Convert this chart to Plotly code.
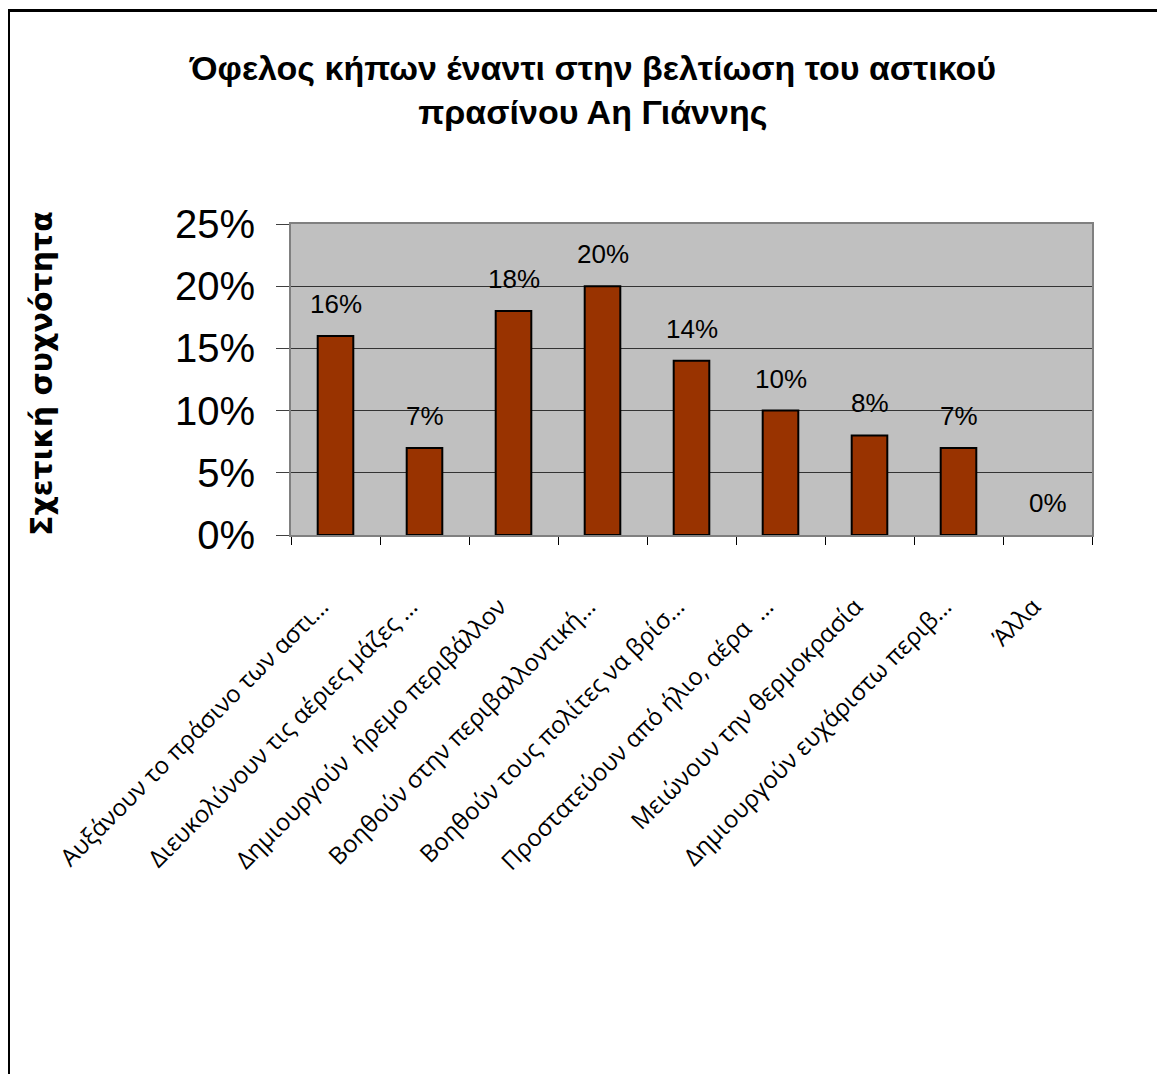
import plotly.graph_objects as go

categories = [
    "Αυξάνουν το πράσινο των αστι…",
    "Διευκολύνουν τις αέριες μάζες …",
    "Δημιουργούν  ήρεμο περιβάλλον",
    "Βοηθούν στην περιβαλλοντική…",
    "Βοηθούν τους πολίτες να βρίσ…",
    "Προστατεύουν από ήλιο, αέρα  …",
    "Μειώνουν την θερμοκρασία",
    "Δημιουργούν ευχάριστω περιβ…",
    "Άλλα",
]
values = [0.16, 0.07, 0.18, 0.20, 0.14, 0.10, 0.08, 0.07, 0.0]
value_labels = ["16%", "7%", "18%", "20%", "14%", "10%", "8%", "7%", "0%"]
y_ticks = [0, 0.05, 0.10, 0.15, 0.20, 0.25]
y_tick_labels = ["0%", "5%", "10%", "15%", "20%", "25%"]

title_text = "Όφελος κήπων έναντι στην βελτίωση του αστικού<br>πρασίνου Αη Γιάννης"
y_title = "Σχετική συχνότητα"

W, H = 1165, 1074
L, T = 283, 216
pw, ph = 801, 311
R, B = W - L - pw, H - T - ph

fig = go.Figure()
fig.add_trace(go.Bar(
    x=categories, y=values, width=0.4,
    marker=dict(color="#993300",
                line=dict(color="black", width=[2 if v > 0 else 0 for v in values])),
    hoverinfo="skip",
))

for c, v, t in zip(categories, values, value_labels):
    fig.add_annotation(x=c, y=v, text=t, showarrow=False, yshift=32,
                       font=dict(family="Liberation Sans, Arial", size=26, color="black"))

def px_to_paper_x(px):
    return (px - L) / pw

def px_to_paper_y(py):
    return (H - B - py) / ph

fig.add_annotation(xref="paper", yref="paper", x=px_to_paper_x(33), y=px_to_paper_y(366),
                   text=y_title, textangle=-90, showarrow=False,
                   xanchor="center", yanchor="middle",
                   font=dict(family="DejaVu Sans", size=30, color="black", weight="bold"))

fig.add_shape(type="rect", xref="paper", yref="paper",
              x0=px_to_paper_x(0.5), x1=px_to_paper_x(1200),
              y0=px_to_paper_y(1100), y1=px_to_paper_y(2.5),
              line=dict(color="black", width=3), fillcolor="rgba(0,0,0,0)", layer="below")

fig.update_layout(
    width=W, height=H,
    margin=dict(l=L, r=R, t=T, b=B, autoexpand=False),
    paper_bgcolor="white", plot_bgcolor="#C0C0C0",
    showlegend=False,
    title=dict(text=title_text, x=0.502, xanchor="center", y=1 - 72 / H, yanchor="middle",
               yref="container",
               font=dict(family="Liberation Sans, Arial", size=34, color="black", weight="bold")),
    font=dict(family="Liberation Sans, Arial", color="black"),
    xaxis=dict(
        type="category", tickangle=-45, tickson="boundaries",
        ticks="outside", ticklen=8, tickcolor="black", tickwidth=1,
        showline=True, linecolor="#808080", linewidth=2, mirror=True,
        showgrid=False, ticklabelstandoff=46, ticklabelshift=-14,
        tickfont=dict(family="Open Sans", size=24, color="black"),
        range=[-0.5, len(categories) - 0.5],
    ),
    yaxis=dict(
        range=[0, 0.25], tickvals=y_ticks, ticktext=y_tick_labels,
        ticks="outside", ticklen=13, tickcolor="#404040", tickwidth=1,
        showline=True, linecolor="#808080", linewidth=2, mirror=True,
        showgrid=True, gridcolor="#333333", gridwidth=1,
        zeroline=False, ticklabelstandoff=13,
        tickfont=dict(family="Liberation Sans, Arial", size=40, color="black"),
    ),
)

fig.write_html("out.html")
